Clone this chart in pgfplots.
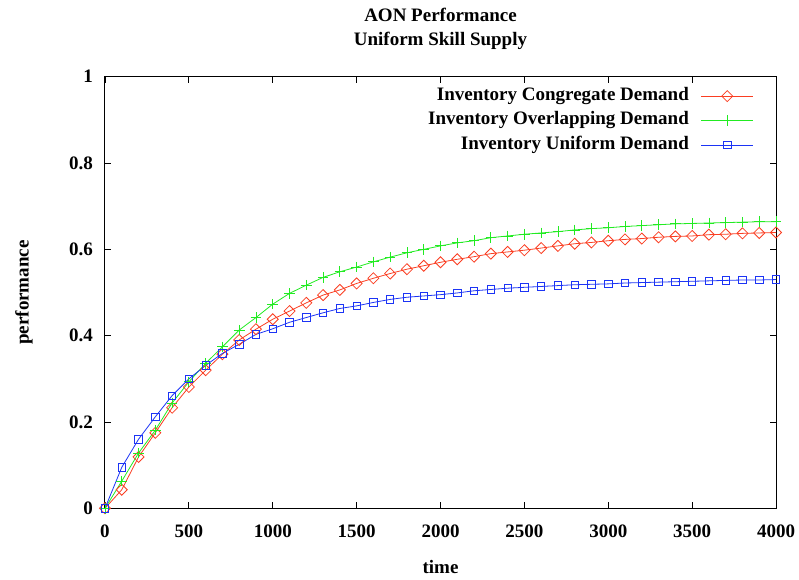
\documentclass[border=0pt]{standalone}
\usepackage{fontspec}
\setmainfont{Liberation Serif}
\usepackage{pgfplots}
\pgfplotsset{compat=1.18}
\usepackage{pgfplotstable}

\definecolor{gpred}{RGB}{250,62,34}
\definecolor{gpgreen}{RGB}{34,235,34}
\definecolor{gpblue}{RGB}{28,52,245}

% time, congregate, overlapping, uniform
\pgfplotstableread{
t     cong   over   unif
0     0.000  0.000  0.000
100   0.043  0.063  0.095
200   0.119  0.128  0.160
300   0.175  0.181  0.212
400   0.233  0.244  0.261
500   0.281  0.293  0.300
600   0.320  0.336  0.331
700   0.357  0.374  0.359
800   0.390  0.413  0.380
900   0.415  0.442  0.403
1000  0.438  0.473  0.416
1100  0.457  0.498  0.431
1200  0.476  0.517  0.442
1300  0.494  0.535  0.453
1400  0.506  0.548  0.463
1500  0.521  0.559  0.469
1600  0.533  0.571  0.477
1700  0.544  0.582  0.484
1800  0.554  0.592  0.489
1900  0.562  0.600  0.492
2000  0.570  0.608  0.495
2100  0.577  0.615  0.499
2200  0.583  0.620  0.504
2300  0.590  0.627  0.507
2400  0.594  0.631  0.510
2500  0.598  0.635  0.512
2600  0.603  0.638  0.514
2700  0.608  0.641  0.516
2800  0.613  0.645  0.518
2900  0.616  0.648  0.519
3000  0.620  0.650  0.520
3100  0.623  0.653  0.522
3200  0.625  0.655  0.523
3300  0.628  0.657  0.524
3400  0.630  0.659  0.525
3500  0.631  0.660  0.526
3600  0.634  0.661  0.527
3700  0.635  0.662  0.528
3800  0.637  0.663  0.529
3900  0.638  0.664  0.529
4000  0.639  0.664  0.530
}\perf

\newcommand{\gpfont}{\bfseries\fontsize{19}{24}\selectfont}

\begin{document}
\begin{tikzpicture}
\path[use as bounding box] (-105pt,-70.7pt) rectangle (694pt,508.3pt);
\begin{axis}[
  scale only axis,
  width=671pt, height=431.6pt,
  xmin=0, xmax=4000, ymin=0, ymax=1,
  xtick={0,500,...,4000},
  ytick={0,0.2,0.4,0.6,0.8,1},
  scaled ticks=false,
  /pgf/number format/1000 sep={},
  /pgf/number format/assume math mode=true,
  tick align=inside,
  tick pos=both,
  major tick length=6pt,
  axis line style={line width=1pt, black},
  every tick/.style={line width=0.9pt, black},
  ticklabel style={font=\gpfont},
  yticklabel style={anchor=east, inner sep=0pt, xshift=-12pt},
  xticklabel style={anchor=north, inner sep=0pt, yshift=-16.7pt},
  title={AON Performance\\Uniform Skill Supply},
  title style={font=\gpfont, align=center, at={(axis description cs:0.5,1)},
    anchor=south, inner sep=0pt, yshift=20.5pt},
  xlabel={time},
  xlabel style={font=\gpfont, at={(axis description cs:0.5,0)}, anchor=base,
    inner sep=0pt, yshift=-64.7pt},
  ylabel={performance},
  ylabel style={font=\gpfont, at={(axis description cs:-0.1207,0.5)},
    anchor=center, inner sep=0pt},
  legend plot pos=right,
  legend cell align=right,
  legend image code/.code={%
    \draw[mark repeat=2,mark phase=2]
      plot coordinates {(0pt,0pt) (26pt,0pt) (52pt,0pt)};},
  legend style={draw=none, fill=none, at={(axis description cs:0.967,0.974)},
    anchor=north east, font=\gpfont, inner sep=0pt, row sep=8.5pt,
    column sep=12pt,
    nodes={inner sep=0pt, text height=12pt, text depth=4pt}},
  every axis plot/.append style={line width=0.8pt},
]
\addplot[color=gpred, mark=square, mark size=3.9pt,
  mark options={rotate=45, solid, line width=0.8pt}]
  table[x=t, y=cong] {\perf};
\addlegendentry{Inventory Congregate Demand}
\addplot[color=gpgreen, mark=+, mark size=5.3pt,
  mark options={solid, line width=0.8pt}]
  table[x=t, y=over] {\perf};
\addlegendentry{Inventory Overlapping Demand}
\addplot[color=gpblue, mark=square, mark size=3.7pt,
  mark options={solid, line width=0.8pt}]
  table[x=t, y=unif] {\perf};
\addlegendentry{Inventory Uniform Demand}
\end{axis}
\end{tikzpicture}
\end{document}
